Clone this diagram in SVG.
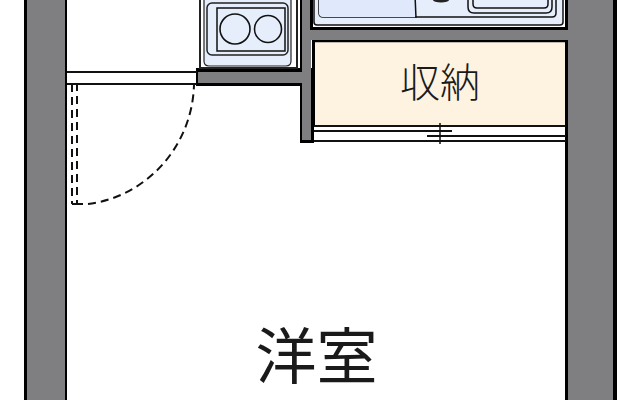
<svg xmlns="http://www.w3.org/2000/svg" width="640" height="400" viewBox="0 0 640 400">
<style>
.wall{fill:#7f7f82}
.k{fill:#000}
.ln{fill:none;stroke:#111;stroke-width:1.5}
.thin{fill:none;stroke:#222;stroke-width:1.2}
.med{fill:none;stroke:#111;stroke-width:2}
.dash{fill:none;stroke:#111;stroke-width:2;stroke-dasharray:8 5}
.blue{fill:#e6eefb}
text{font-family:"Noto Sans CJK JP","Noto Sans CJK SC",sans-serif;fill:#1a1a1a;text-anchor:middle}
</style>
<rect width="640" height="400" fill="#fff"/>
<g id="walls">
<rect class="k" x="24" y="0" width="43" height="400"/>
<rect class="wall" x="27" y="0" width="38" height="400"/>
<rect class="k" x="565" y="0" width="52" height="400"/>
<rect class="wall" x="568" y="0" width="45" height="400"/>
<rect class="k" x="196" y="68" width="118" height="18"/>
<rect class="k" x="300" y="68" width="14" height="75"/>
<rect class="wall" x="198" y="72" width="113" height="11"/>
<rect class="wall" x="302" y="0" width="9" height="140"/>
<rect class="wall" x="311" y="30" width="257" height="10"/>
<rect class="k" x="300" y="0" width="2" height="69"/>
</g>
<g id="kitchen">
<rect x="310" y="-5" width="258" height="35" fill="#000"/>
<rect x="313" y="-5" width="252" height="32" fill="#fff"/>
<path class="blue" d="M314,-5V22q0,3 3,3H560q3,0 3,-3V-5Z"/>
<path class="ln" d="M314,-5V22q0,3 3,3H560q3,0 3,-3V-5"/>
<path class="ln" d="M319,-5V13q0,4 4,4H552q4,0 4,-4V-5"/>
<path class="blue" d="M319,-5V13q0,4 4,4H415V-5Z" style="fill:#dfe9fb"/>
<path class="ln" d="M415,-5L416,18"/>
<path class="ln" d="M468,-5V7q0,6 6,6H546q6,0 6,-6V-5"/>
<path class="ln" d="M473,-5V4q0,4 4,4H544q4,0 4,-4V-5"/>
<ellipse cx="441" cy="0" rx="8" ry="2.5" fill="#222"/>
</g>
<g id="stove">
<path class="med" d="M200,-5V68H297V-5" style="stroke:#222"/>
<path class="blue" d="M204,-5V61q0,5 5,5H286q5,0 5,-5V-5Z"/>
<path class="thin" d="M204,-5V61q0,5 5,5H286q5,0 5,-5V-5"/>
<rect x="207" y="3" width="81" height="52" rx="5" fill="none" stroke="#222" stroke-width="1.5"/>
<rect x="217" y="8" width="68" height="43" fill="none" stroke="#111" stroke-width="1.5"/>
<circle cx="235" cy="29" r="15" fill="none" stroke="#111" stroke-width="1.6"/>
<circle cx="268" cy="29" r="13.5" fill="none" stroke="#111" stroke-width="1.6"/>
</g>
<g id="storage">
<rect x="312" y="40" width="256" height="2.5" fill="#000"/>
<rect x="312" y="40" width="3" height="86" fill="#000"/>
<rect x="315" y="42.500" width="250" height="83" fill="#fdf3e0"/>
<text x="440" y="96.500" font-size="40" font-weight="300">収納</text>
</g>
<g id="connectors">
<path class="med" d="M314,126H566M314,141H566"/>
<path class="med" d="M314,131H452M427,136H566"/>
<path class="ln" d="M440,123V144"/>
<path class="med" d="M67,72H197M67,84H197"/>
<path class="dash" d="M72,84V204"/>
<path class="dash" d="M77,83V204"/>
<path class="med" d="M72,204H83"/>
<path class="dash" d="M88,204C145,197 192,148 194,85"/>
</g>
<g id="room">
<text x="316.500" y="379" font-size="61" font-weight="400">洋室</text>
</g>
</svg>
